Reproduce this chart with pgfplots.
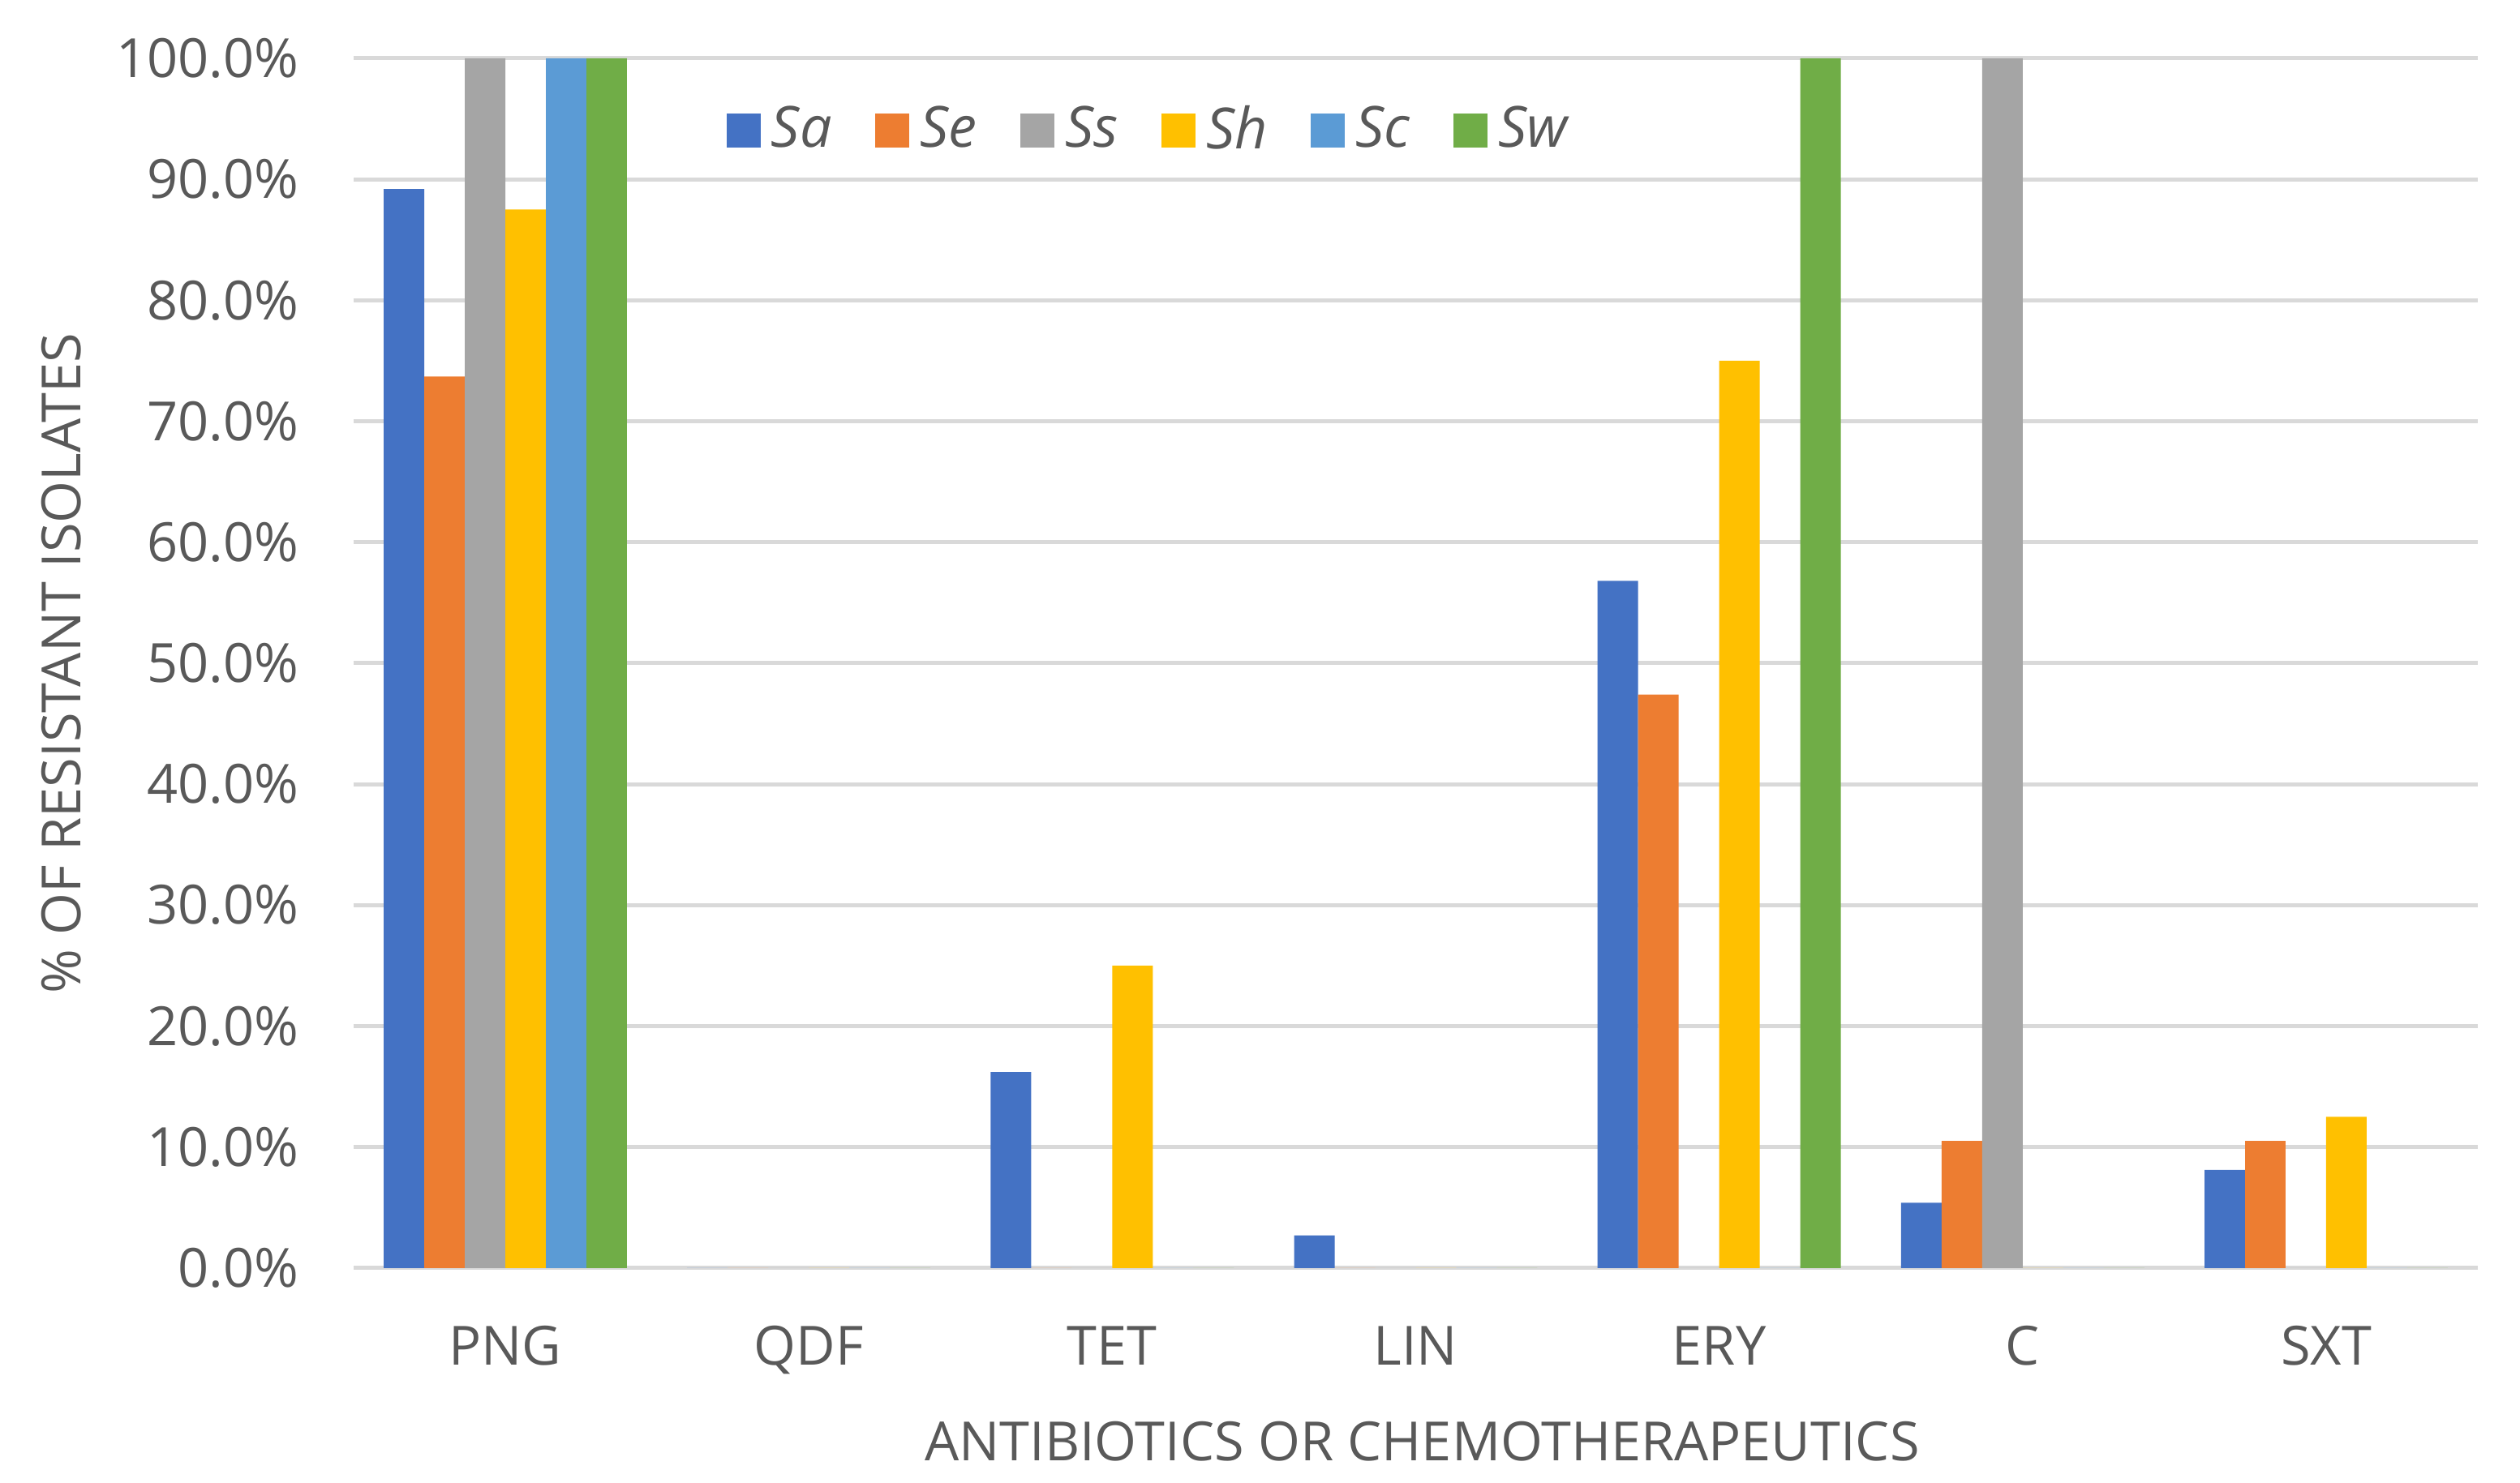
\documentclass[border=0pt]{standalone}
\usepackage{pgfplots}
\pgfplotsset{compat=1.18}
\usepackage{fontspec}
\setmainfont{Open Sans}
\definecolor{txt}{HTML}{595959}
\definecolor{grd}{HTML}{D9D9D9}
\definecolor{cSa}{HTML}{4472C4}
\definecolor{cSe}{HTML}{ED7D31}
\definecolor{cSs}{HTML}{A5A5A5}
\definecolor{cSh}{HTML}{FFC000}
\definecolor{cSc}{HTML}{5B9BD5}
\definecolor{cSw}{HTML}{70AD47}
\begin{document}
\begin{tikzpicture}
\begin{axis}[
	name = ax,
	scale only axis,
	width = 392.9pt,
	height = 223.8pt,
	ybar = 0pt,
	bar width = 0.1336,
	xmin = -0.5, xmax = 6.5,
	ymin = 0, ymax = 100,
	ytick = {0,10,...,100},
	xtick = {0,...,6},
	xticklabels = {PNG,QDF,TET,LIN,ERY,C,SXT},
	axis line style = {draw=none},
	major tick length = 0pt,
	ymajorgrids,
	major grid style = {grd, line width=0.75pt},
	font = \fontsize{10}{12}\selectfont,
	tick label style = {txt},
	/pgf/number format/assume math mode = true,
	yticklabel = {\pgfmathprintnumber[fixed,fixed zerofill,precision=1]{\tick}\%},
	yticklabel style = {anchor=east, xshift=-6.6pt},
	xticklabel style = {anchor=base, yshift=-17.9pt},
	ylabel = {\% OF RESISTANT ISOLATES},
	xlabel = {ANTIBIOTICS OR CHEMOTHERAPEUTICS},
	ylabel style = {txt, at={(axis description cs:-0.1283,0.5)}, anchor=base},
	xlabel style = {txt, at={(axis description cs:0.503,-0.159)}, anchor=base},
	legend columns = -1,
	legend style = {
		at = {(0.376, 0.940)},
		anchor = center,
		draw = none,
		fill = none,
		font = \fontsize{10.5}{12}\selectfont\itshape,
		text = txt,
		/tikz/every odd column/.append style = {column sep = 0pt},
		/tikz/every even column/.append style = {column sep = 6pt}
	},
	legend image code/.code = {
		\fill[#1] (0pt, -3.15pt) rectangle (6.3pt, 3.15pt);
	}
]
\addplot[draw=none, fill=cSa] coordinates {(0,89.2) (1,0) (2,16.2) (3,2.7) (4,56.8) (5,5.4) (6,8.1)};
\addplot[draw=none, fill=cSe] coordinates {(0,73.7) (1,0) (2,0) (3,0) (4,47.4) (5,10.5) (6,10.5)};
\addplot[draw=none, fill=cSs] coordinates {(0,100) (1,0) (2,0) (3,0) (4,0) (5,100) (6,0)};
\addplot[draw=none, fill=cSh] coordinates {(0,87.5) (1,0) (2,25.0) (3,0) (4,75.0) (5,0) (6,12.5)};
\addplot[draw=none, fill=cSc] coordinates {(0,100) (1,0) (2,0) (3,0) (4,0) (5,0) (6,0)};
\addplot[draw=none, fill=cSw] coordinates {(0,100) (1,0) (2,0) (3,0) (4,100) (5,0) (6,0)};
\legend{Sa, Se, Ss, Sh, Sc, Sw}
\end{axis}
\pgfresetboundingbox
\path[use as bounding box] ([xshift=-65.4pt, yshift=-39.75pt]ax.south west) rectangle ([xshift=7.8pt, yshift=10.8pt]ax.north east);
\end{tikzpicture}
\end{document}
